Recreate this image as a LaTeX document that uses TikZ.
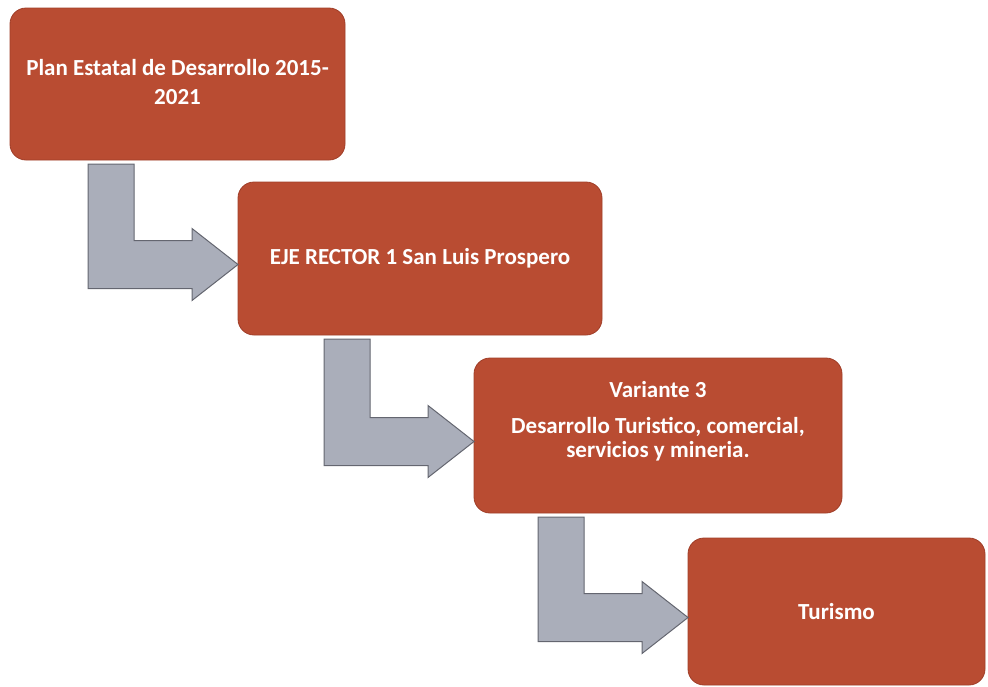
\documentclass[tikz,border=0pt]{standalone}
\usepackage{fontspec}
\setmainfont{Carlito}
\usetikzlibrary{calc}
\definecolor{boxred}{RGB}{185,76,50}
\definecolor{boxedge}{RGB}{160,62,40}
\definecolor{arrowgray}{RGB}{170,174,186}
\definecolor{arrowedge}{RGB}{100,102,112}

\begin{document}
\begin{tikzpicture}[x=1pt,y=-1pt,
  stepbox/.style={rectangle,rounded corners=16pt,draw=boxedge,line width=0.8pt,fill=boxred,
    text=white,font=\bfseries\fontsize{23}{27}\selectfont,outer sep=0pt,inner sep=0pt},
  bentarrow/.style={draw=arrowedge,line width=1pt,fill=arrowgray,line join=miter}]
\useasboundingbox (0,0) rectangle (988,686);

\node [stepbox,minimum width=335pt,minimum height=152pt,at={(177.5,84)}] (plan) {\begin{tabular}{c}Plan Estatal de Desarrollo 2015-\\[2pt] 2021\\[-2pt]\end{tabular}};
\node [stepbox,minimum width=364pt,minimum height=153pt,at={(420,258.5)}] (eje) {EJE RECTOR 1 San Luis Prospero};
\node [stepbox,minimum width=368pt,minimum height=155pt,at={(658,435.5)}] (var) {\begin{tabular}{c}Variante 3\\[9pt] Desarrollo Turistico, comercial,\\[-3pt] servicios y mineria.\\[26pt]\end{tabular}};
\node [stepbox,minimum width=297pt,minimum height=147pt,at={(836.5,611.5)}] (tur) {Turismo};

\foreach \a/\b in {plan/eje,eje/var,var/tur}
  \draw [bentarrow] let \p1=(\a.south), \p2=(\b.west), \n1={\y2-6pt} in
    (\x2-150pt,\y1-4pt) -- (\x2-104pt,\y1-4pt) -- (\x2-104pt,\n1+24pt) -- (\x2-46pt,\n1+24pt)
    -- (\x2-46pt,\n1+36pt) -- (\x2,\n1) -- (\x2-46pt,\n1-36pt) -- (\x2-46pt,\n1-24pt)
    -- (\x2-150pt,\n1-24pt) -- cycle;
\end{tikzpicture}
\end{document}
